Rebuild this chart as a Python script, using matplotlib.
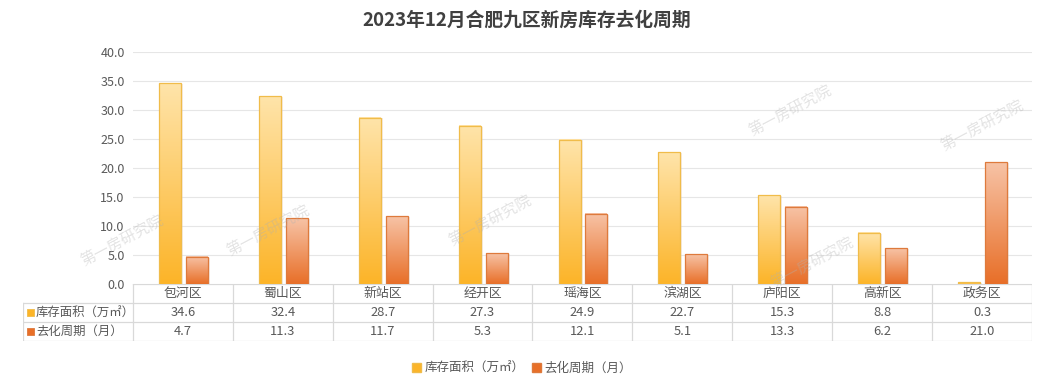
import numpy as np
import matplotlib
matplotlib.use('Agg')
import matplotlib.pyplot as plt
from matplotlib.colors import LinearSegmentedColormap
from matplotlib.patches import Rectangle, Patch

plt.rcParams['font.family'] = ['Noto Sans CJK SC', 'DejaVu Sans']

districts = ['包河区', '蜀山区', '新站区', '经开区', '瑶海区', '滨湖区', '庐阳区', '高新区', '政务区']
area = [34.6, 32.4, 28.7, 27.3, 24.9, 22.7, 15.3, 8.8, 0.3]
cycle = [4.7, 11.3, 11.7, 5.3, 12.1, 5.1, 13.3, 6.2, 21.0]
series_names = ['库存面积（万㎡）', '去化周期（月）']
yticks = [0, 5, 10, 15, 20, 25, 30, 35, 40]

yellow = ('#FFE4AA', '#FCB428', '#F0BC4A')
orange = ('#F7C3A6', '#E86F28', '#DE7A3C')
txt = '#595959'
line_c = '#D9D9D9'

W, H = 1054, 389
fig = plt.figure(figsize=(W / 100, H / 100), dpi=100)

ax = fig.add_axes([133 / W, 1 - 284 / H, (1032 - 133) / W, (284 - 52) / H])
x = np.arange(len(districts))
bw = 0.22


def paint(bars, cols):
    top, bot, edge = cols
    cmap = LinearSegmentedColormap.from_list('g', [bot, top])
    grad = np.linspace(0, 1, 128).reshape(-1, 1)
    for b in bars:
        x0, w, h = b.get_x(), b.get_width(), b.get_height()
        if h <= 0:
            continue
        # soft shadow
        ax.add_patch(Rectangle((x0 + 0.02, 0), w, h - 0.15, color='#E0C8B8',
                               alpha=0.35, zorder=2, lw=0))
        ax.imshow(grad, extent=[x0, x0 + w, 0, h], origin='lower', cmap=cmap,
                  aspect='auto', zorder=3)
        ax.add_patch(Rectangle((x0, 0), w, h, fill=False, ec=edge, lw=0.9, zorder=4))


b1 = ax.bar(x - 0.13, area, bw, color='none', zorder=3)
b2 = ax.bar(x + 0.14, cycle, bw, color='none', zorder=3)
paint(b1, yellow)
paint(b2, orange)

ax.set_xlim(-0.5, len(districts) - 0.5)
ax.set_ylim(0, 40)
ax.set_yticks(yticks)
ax.set_yticklabels([f'{v:.1f}' for v in yticks], color=txt, fontsize=9)
ax.set_xticks([])
ax.grid(axis='y', color='#E6E6E6', lw=0.8, zorder=0)
ax.tick_params(axis='y', length=0, pad=6)
for s in ax.spines.values():
    s.set_visible(False)

# watermarks
wm = [(122, 240), (268, 230), (490, 220), (790, 110), (982, 125), (812, 262)]
for px, py in wm:
    fig.text(px / W, 1 - py / H, '第一房研究院', fontsize=11, color='#B0B0B0', alpha=0.35,
             rotation=28, ha='center', va='center')

# data table
tax = fig.add_axes([23 / W, 1 - 341 / H, (1032 - 23) / W, (341 - 284) / H])
tax.set_xlim(-1.6, len(districts) - 0.5)
tax.set_ylim(0, 3)
tax.axis('off')
lk = dict(color=line_c, lw=0.9)
tax.plot([-0.5, len(districts) - 0.5], [3, 3], **lk)
for yy in [0, 1, 2]:
    tax.plot([-1.6, len(districts) - 0.5], [yy, yy], **lk)
tax.plot([-1.6, -1.6], [0, 2], **lk)
for i in range(len(districts) + 1):
    tax.plot([i - 0.5, i - 0.5], [0, 3], **lk)
fs = 9.3
for i, d in enumerate(districts):
    tax.text(i, 2.5, d, ha='center', va='center', fontsize=fs, color=txt)
    tax.text(i, 1.5, f'{area[i]:.1f}', ha='center', va='center', fontsize=fs, color=txt)
    tax.text(i, 0.5, f'{cycle[i]:.1f}', ha='center', va='center', fontsize=fs, color=txt)
for row, name, cols in [(1.5, series_names[0], yellow), (0.5, series_names[1], orange)]:
    tax.add_patch(Rectangle((-1.56, row - 0.2), 0.075, 0.4, fc=cols[1], ec=cols[2], lw=0.6))
    tax.text(-1.47, row, name, ha='left', va='center', fontsize=8.9, color=txt)

handles = [Patch(fc=yellow[1], ec=yellow[2]), Patch(fc=orange[1], ec=orange[2])]
fig.legend(handles, series_names, loc='center', bbox_to_anchor=(522 / W, 1 - 368 / H),
           ncol=2, frameon=False, fontsize=9, handlelength=0.7, handleheight=0.7,
           handletextpad=0.3, columnspacing=0.6, labelcolor=txt)

fig.text(0.5, 1 - 20 / H, '2023年12月合肥九区新房库存去化周期', ha='center', va='center',
         fontsize=13.5, fontweight='bold', color='#404040')

fig.savefig('out.png', dpi=100)
